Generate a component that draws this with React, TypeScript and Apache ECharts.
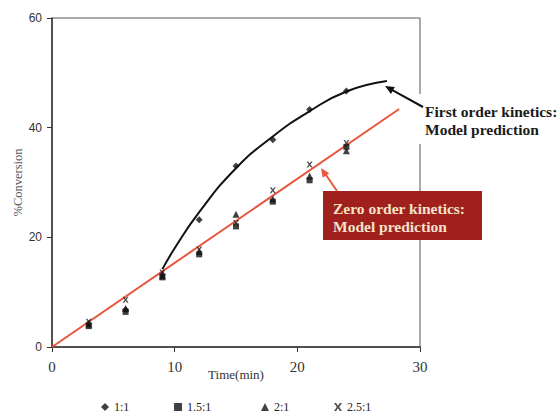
import React, { useEffect, useRef } from "react";
import * as echarts from "echarts";

const times = [3, 6, 9, 12, 15, 18, 21, 24];
const ratio1 = [4.3, 6.8, 13.2, 23.2, 33.0, 37.8, 43.3, 46.7];
const ratio15 = [3.8, 6.4, 12.7, 16.9, 22.0, 26.5, 30.4, 36.5];
const ratio2 = [4.2, 7.0, 13.0, 17.4, 24.2, 27.0, 31.2, 35.8];
const ratio25 = [4.6, 8.6, 13.6, 17.8, 22.6, 28.6, 33.3, 37.2];
const firstOrderX = [9, 10, 12, 15, 18, 21, 24, 27.3];
const firstOrderY = [14.2, 18.0, 24.6, 32.6, 38.4, 43.0, 46.6, 48.5];
const zeroOrderX = [0, 28.3];
const zeroOrderY = [0, 43.4];
const seriesNames = ["1:1", "1.5:1", "2:1", "2.5:1"];
const xTicks = { min: 0, max: 30, interval: 10 };
const yTicks = { min: 0, max: 60, interval: 20 };

const xSymbol =
  "path://M0,0 L2.6,0 L5,3.3 L7.4,0 L10,0 L6.5,5 L10,10 L7.4,10 L5,6.7 L2.6,10 L0,10 L3.5,5 Z";

const pair = (xs: number[], ys: number[]) => xs.map((x, i) => [x, ys[i]]);

export default function App() {
  const ref = useRef<HTMLDivElement>(null);
  useEffect(() => {
    if (!ref.current) return;
    const chart = echarts.init(ref.current, undefined, { renderer: "svg" });
    const serif = "'Liberation Serif', 'Times New Roman', serif";
    const legendPos = [101, 174, 261, 334];
    chart.setOption({
      animation: false,
      backgroundColor: "#ffffff",
      grid: {
        left: 52,
        right: 139,
        top: 18,
        bottom: 69,
        show: true,
        borderColor: "#555",
        borderWidth: 1,
        outerBoundsMode: "none",
        containLabel: false,
      },
      xAxis: {
        type: "value",
        ...xTicks,
        name: "Time(min)",
        nameLocation: "middle",
        nameGap: 21,
        nameMoveOverlap: false,
        nameTextStyle: { fontFamily: serif, fontSize: 13, color: "#333" },
        axisLine: { show: true, lineStyle: { color: "#333", width: 1.5 } },
        axisTick: { show: true, length: 5, lineStyle: { color: "#333" } },
        axisLabel: { fontFamily: serif, fontSize: 15, color: "#333", margin: 12 },
        splitLine: { show: false },
      },
      yAxis: {
        type: "value",
        ...yTicks,
        name: "%Conversion",
        nameLocation: "middle",
        nameGap: 28,
        nameMoveOverlap: false,
        nameTextStyle: { fontFamily: serif, fontSize: 12.5, color: "#555" },
        axisLine: { show: true, lineStyle: { color: "#333", width: 1.5 } },
        axisTick: { show: true, length: 5, lineStyle: { color: "#333" } },
        axisLabel: {
          fontFamily: "'Liberation Sans', Arial, sans-serif",
          fontSize: 12,
          color: "#333",
          margin: 10,
        },
        splitLine: { show: false },
      },
      legend: seriesNames.map((n, i) => ({
        data: [n],
        left: legendPos[i],
        top: 401,
        itemWidth: 8,
        itemHeight: 8,
        padding: 0,
        textStyle: { fontFamily: serif, fontSize: 12, color: "#222" },
      })),
      series: [
        {
          type: "line",
          name: "zero",
          data: pair(zeroOrderX, zeroOrderY),
          symbol: "none",
          lineStyle: { color: "#E8553D", width: 2 },
          z: 2,
        },
        {
          type: "line",
          name: "first",
          data: pair(firstOrderX, firstOrderY),
          smooth: 0.5,
          symbol: "none",
          lineStyle: { color: "#111", width: 2 },
          z: 2,
        },
        {
          type: "scatter",
          name: "1:1",
          data: pair(times, ratio1),
          symbol: "diamond",
          symbolSize: 7,
          itemStyle: { color: "#111" },
          z: 3,
        },
        {
          type: "scatter",
          name: "2:1",
          data: pair(times, ratio2),
          symbol: "triangle",
          symbolSize: 7,
          itemStyle: { color: "#111" },
          z: 3,
        },
        {
          type: "scatter",
          name: "1.5:1",
          data: pair(times, ratio15),
          symbol: "rect",
          symbolSize: 6,
          itemStyle: { color: "#111" },
          z: 4,
        },
        {
          type: "scatter",
          name: "2.5:1",
          data: pair(times, ratio25),
          symbol: xSymbol,
          symbolSize: 6,
          itemStyle: { color: "#222" },
          z: 5,
        },
      ],
      graphic: [
        { type: "rect", shape: { x: 414, y: 94, width: 145, height: 50 }, style: { fill: "#fff" }, z: 10 },
        {
          type: "line",
          shape: { x1: 423, y1: 107, x2: 391, y2: 89.3 },
          style: { stroke: "#111", lineWidth: 2 },
          z: 11,
        },
        {
          type: "polygon",
          shape: { points: [[385, 86], [394.8, 86.9], [391, 93.9]] },
          style: { fill: "#111" },
          z: 11,
        },
        {
          type: "text",
          x: 425,
          y: 111,
          style: { text: "First order kinetics:", font: `bold 15.5px ${serif}`, fill: "#1a1a1a", verticalAlign: "middle" },
          z: 11,
        },
        {
          type: "text",
          x: 425,
          y: 129,
          style: { text: "Model prediction", font: `bold 15.5px ${serif}`, fill: "#1a1a1a", verticalAlign: "middle" },
          z: 11,
        },
        { type: "rect", shape: { x: 323, y: 191, width: 159, height: 49 }, style: { fill: "#A0201E" }, z: 10 },
        {
          type: "line",
          shape: { x1: 337, y1: 191, x2: 325, y2: 173.5 },
          style: { stroke: "#E85A40", lineWidth: 2 },
          z: 11,
        },
        {
          type: "polygon",
          shape: { points: [[321, 168], [329.3, 173.3], [322.7, 177.7]] },
          style: { fill: "#E85A40" },
          z: 11,
        },
        {
          type: "text",
          x: 333,
          y: 208,
          style: { text: "Zero order kinetics:", font: `bold 15.5px ${serif}`, fill: "#F3E3C8", verticalAlign: "middle" },
          z: 11,
        },
        {
          type: "text",
          x: 333,
          y: 226,
          style: { text: "Model prediction", font: `bold 15.5px ${serif}`, fill: "#F3E3C8", verticalAlign: "middle" },
          z: 11,
        },
      ],
    });
    return () => chart.dispose();
  }, []);
  return (
    <div
      ref={ref}
      style={{ position: "fixed", left: 0, top: 0, width: 559, height: 416 }}
    />
  );
}
